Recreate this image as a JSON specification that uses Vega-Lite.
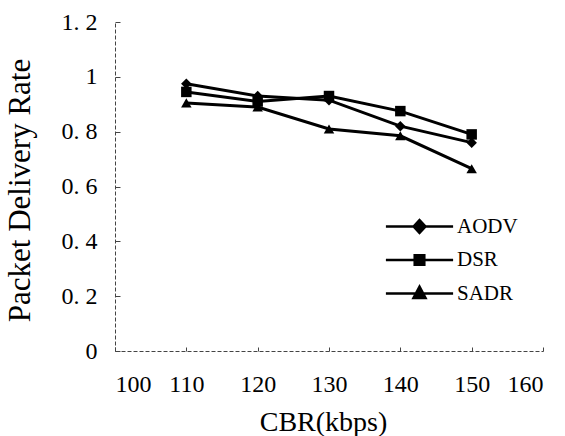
{
  "$schema": "https://vega.github.io/schema/vega-lite/v6.json",
  "width": 428,
  "height": 329,
  "autosize": {"type": "none"},
  "padding": {"left": 115, "top": 22, "right": 22, "bottom": 85},
  "background": "white",
  "config": {
    "view": {"stroke": null},
    "font": "Liberation Serif",
    "axis": {
      "grid": false,
      "domainColor": "#444",
      "domainDash": [4, 2],
      "domainWidth": 1,
      "tickColor": "#444",
      "tickWidth": 1,
      "labelColor": "black",
      "titleColor": "black",
      "labelFont": "Liberation Serif",
      "titleFont": "Liberation Serif",
      "titleFontWeight": "normal",
      "labelFontSize": 24
    }
  },
  "data": {
    "values": [
      {"cbr": 110, "protocol": "AODV", "rate": 0.975},
      {"cbr": 120, "protocol": "AODV", "rate": 0.93},
      {"cbr": 130, "protocol": "AODV", "rate": 0.915},
      {"cbr": 140, "protocol": "AODV", "rate": 0.82},
      {"cbr": 150, "protocol": "AODV", "rate": 0.76},
      {"cbr": 110, "protocol": "DSR", "rate": 0.945},
      {"cbr": 120, "protocol": "DSR", "rate": 0.91},
      {"cbr": 130, "protocol": "DSR", "rate": 0.93},
      {"cbr": 140, "protocol": "DSR", "rate": 0.875},
      {"cbr": 150, "protocol": "DSR", "rate": 0.79},
      {"cbr": 110, "protocol": "SADR", "rate": 0.905},
      {"cbr": 120, "protocol": "SADR", "rate": 0.89},
      {"cbr": 130, "protocol": "SADR", "rate": 0.81},
      {"cbr": 140, "protocol": "SADR", "rate": 0.785},
      {"cbr": 150, "protocol": "SADR", "rate": 0.665}
    ]
  },
  "encoding": {
    "x": {
      "field": "cbr",
      "type": "quantitative",
      "scale": {"domain": [100, 160], "nice": false, "zero": false},
      "axis": {
        "values": [100, 110, 120, 130, 140, 150, 160],
        "title": "CBR(kbps)",
        "titleFontSize": 28,
        "titleX": 208,
        "titleY": 79,
        "titleBaseline": "alphabetic",
        "tickSize": -4,
        "labelPadding": 25
      }
    },
    "y": {
      "field": "rate",
      "type": "quantitative",
      "scale": {"domain": [0, 1.2], "nice": false},
      "axis": {
        "values": [0, 0.2, 0.4, 0.6, 0.8, 1, 1.2],
        "labelExpr": "replace(format(datum.value, '.1~f'), '.', '. ')",
        "title": "Packet Delivery Rate",
        "titleFontSize": 31,
        "titleX": -95,
        "titleY": 168,
        "titleAngle": -90,
        "titleAlign": "center",
        "titleBaseline": "middle",
        "tickSize": -5,
        "labelPadding": 23
      }
    }
  },
  "layer": [
    {
      "mark": {"type": "line", "color": "black", "strokeWidth": 3},
      "encoding": {"detail": {"field": "protocol"}}
    },
    {
      "mark": {"type": "point", "fill": "black", "stroke": "black", "opacity": 0, "strokeWidth": 2.5},
      "encoding": {
        "shape": {
          "field": "protocol",
          "type": "nominal",
          "scale": {
            "domain": ["AODV", "DSR", "SADR"],
            "range": [
              "M-4.2,0H-0.75L0,-0.8L0.75,0L0,0.8L-0.75,0ZM0.75,0H4.2",
              "M-4.2,0H-0.6V-0.6H0.6V0.6H-0.6V0ZM0.6,0H4.2",
              "M-4.2,0H4.2M0,-0.85L0.75,0.55H-0.75Z"
            ]
          },
          "legend": {
            "title": null,
            "orient": "none",
            "legendX": 294,
            "legendY": 194,
            "padding": 0,
            "symbolSize": 256,
            "symbolOpacity": 1,
            "symbolStrokeWidth": 2.5,
            "labelFont": "Liberation Serif",
            "labelFontSize": 21,
            "labelColor": "black",
            "labelOffset": 27,
            "rowPadding": 10.5
          }
        }
      }
    },
    {
      "mark": {"type": "point", "filled": true, "color": "black", "opacity": 1, "size": 110},
      "encoding": {
        "shape": {
          "field": "protocol",
          "type": "nominal",
          "scale": {"domain": ["AODV", "DSR", "SADR"], "range": ["diamond", "square", "triangle-up"]},
          "legend": null
        }
      }
    }
  ],
  "resolve": {"scale": {"shape": "independent"}}
}
